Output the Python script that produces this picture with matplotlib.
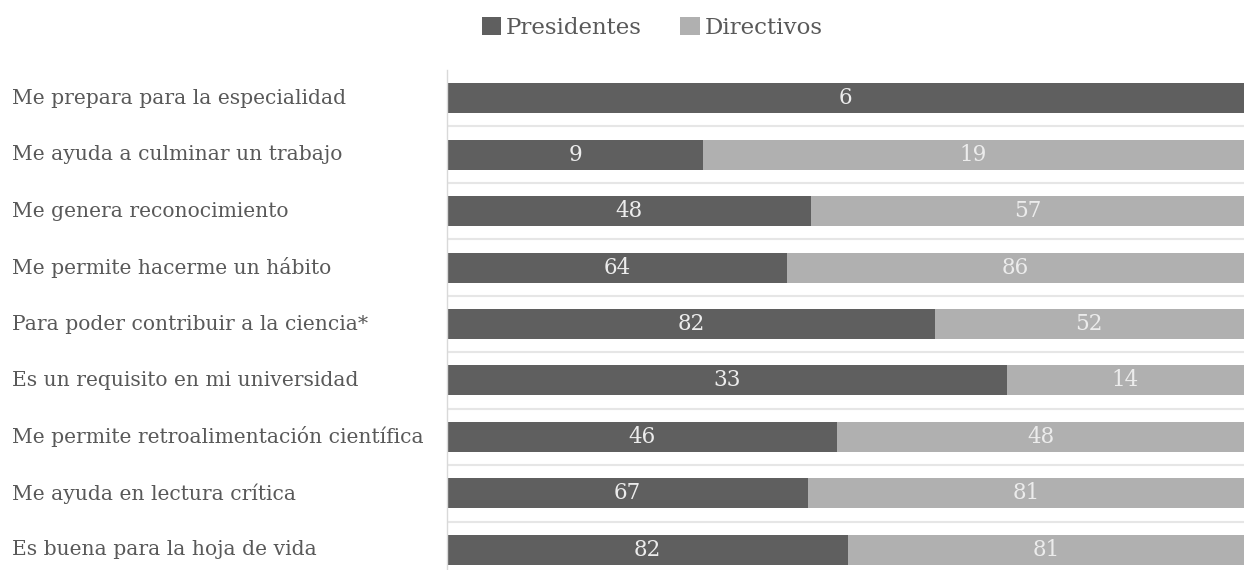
import matplotlib
matplotlib.use("Agg")
import matplotlib.pyplot as plt
from matplotlib.transforms import blended_transform_factory
import numpy as np

categories = [
    "Me prepara para la especialidad",
    "Me ayuda a culminar un trabajo",
    "Me genera reconocimiento",
    "Me permite hacerme un hábito",
    "Para poder contribuir a la ciencia*",
    "Es un requisito en mi universidad",
    "Me permite retroalimentación científica",
    "Me ayuda en lectura crítica",
    "Es buena para la hoja de vida",
]
presidentes = [6, 9, 48, 64, 82, 33, 46, 67, 82]
directivos = [0, 19, 57, 86, 52, 14, 48, 81, 81]

c_pres = "#5f5f5f"
c_dir = "#b0b0b0"
txt = "#595959"

plt.rcParams['font.family'] = ['DejaVu Serif']

fig = plt.figure(figsize=(12.44, 5.70), dpi=100)
ax = fig.add_axes([447/1244, -8/570, 1 - 447/1244, (578-70)/570])

p = np.array(presidentes, float)
d = np.array(directivos, float)
tot = p + d
pp = p / tot * 100
dp = d / tot * 100
y = np.arange(len(categories))

ax.barh(y, pp, height=0.53, color=c_pres, label="Presidentes")
ax.barh(y, dp, left=pp, height=0.53, color=c_dir, label="Directivos")

for i in range(len(categories)):
    if p[i] > 0:
        ax.text(pp[i]/2, y[i], str(presidentes[i]), ha='center', va='center',
                color="#ececec", fontsize=15.5)
    if d[i] > 0:
        ax.text(pp[i] + dp[i]/2, y[i], str(directivos[i]), ha='center', va='center',
                color="#ececec", fontsize=15.5)

ax.set_xlim(0, 100)
ax.set_ylim(len(categories) - 0.5, -0.5)
for yy in np.arange(0.5, len(categories) - 0.5, 1):
    ax.axhline(yy, color="#e6e6e6", lw=1.5, zorder=0)
ax.set_xticks([])
ax.set_yticks([])
for s in ["top", "right", "bottom"]:
    ax.spines[s].set_visible(False)
ax.spines["left"].set_color("#d9d9d9")
ax.spines["left"].set_linewidth(1)

tr = blended_transform_factory(fig.transFigure, ax.transData)
for i, c in enumerate(categories):
    ax.text(12/1244, y[i], c, transform=tr, ha='left', va='center',
            color=txt, fontsize=14.6, clip_on=False)

leg = fig.legend(loc='center', bbox_to_anchor=(652/1244, 1 - 28/570), ncol=2,
                 frameon=False, fontsize=16.5, handlelength=0.85, handleheight=0.85,
                 handletextpad=0.2, columnspacing=1.7)
for t in leg.get_texts():
    t.set_color(txt)

fig.savefig("out.png", dpi=100)
